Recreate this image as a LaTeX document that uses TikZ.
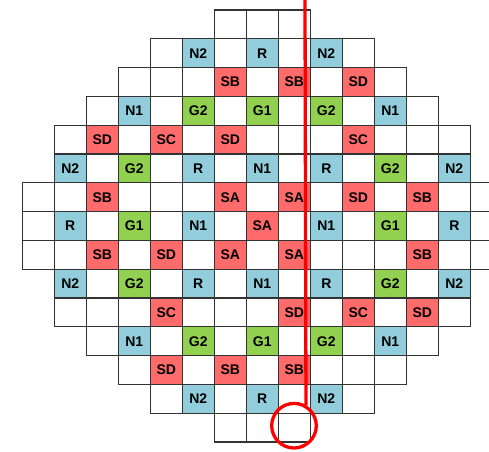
\documentclass[tikz,border=0pt]{standalone}
\usepackage{fontspec}
\setmainfont{Liberation Sans}
\definecolor{cblue}{RGB}{146,205,220}
\definecolor{cred}{RGB}{255,107,107}
\definecolor{cgreen}{RGB}{146,208,80}
\tikzset{
  cell/.style={draw=black!80, line width=1.2pt, minimum width=32pt, minimum height=28.8pt,
    inner sep=0pt, font=\fontsize{14}{14}\selectfont\bfseries},
  marker/.style={draw=red, line width=3.3pt}
}
\begin{document}
\begin{tikzpicture}[x=1pt,y=-1pt]
\useasboundingbox (0,0) rectangle (489,451);
\foreach \r/\a/\b in {0/6/8,1/4/10,2/3/11,3/2/12,4/1/13,5/1/13,6/0/14,7/0/14,8/0/14,9/1/13,10/1/13,11/2/12,12/3/11,13/4/10,14/6/8}{
  \foreach \c in {\a,...,\b}{
    \node[cell, fill=white] (c-\r-\c) at ({38.3+32*\c},{24.4+28.8*\r}) {};
  }
}
\foreach \r/\c/\t/\k in {
  1/5/N2/cblue,1/7/R/cblue,1/9/N2/cblue,
  2/6/SB/cred,2/8/SB/cred,2/10/SD/cred,
  3/3/N1/cblue,3/5/G2/cgreen,3/7/G1/cgreen,3/9/G2/cgreen,3/11/N1/cblue,
  4/2/SD/cred,4/4/SC/cred,4/6/SD/cred,4/10/SC/cred,
  5/1/N2/cblue,5/3/G2/cgreen,5/5/R/cblue,5/7/N1/cblue,5/9/R/cblue,5/11/G2/cgreen,5/13/N2/cblue,
  6/2/SB/cred,6/6/SA/cred,6/8/SA/cred,6/10/SD/cred,6/12/SB/cred,
  7/1/R/cblue,7/3/G1/cgreen,7/5/N1/cblue,7/7/SA/cred,7/9/N1/cblue,7/11/G1/cgreen,7/13/R/cblue,
  8/2/SB/cred,8/4/SD/cred,8/6/SA/cred,8/8/SA/cred,8/12/SB/cred,
  9/1/N2/cblue,9/3/G2/cgreen,9/5/R/cblue,9/7/N1/cblue,9/9/R/cblue,9/11/G2/cgreen,9/13/N2/cblue,
  10/4/SC/cred,10/8/SD/cred,10/10/SC/cred,10/12/SD/cred,
  11/3/N1/cblue,11/5/G2/cgreen,11/7/G1/cgreen,11/9/G2/cgreen,11/11/N1/cblue,
  12/4/SD/cred,12/6/SB/cred,12/8/SB/cred,
  13/5/N2/cblue,13/7/R/cblue,13/9/N2/cblue}{
  \node[cell, fill=\k] (l-\r-\c) at ({38.3+32*\c},{24.4+28.8*\r}) {\t};
}
\coordinate (top) at (305,0);
\node[marker, circle, minimum size=44.6pt, inner sep=0pt] (ring) at (294,425.7) {};
\draw[marker] (top) -- (ring.60);
\end{tikzpicture}
\end{document}
